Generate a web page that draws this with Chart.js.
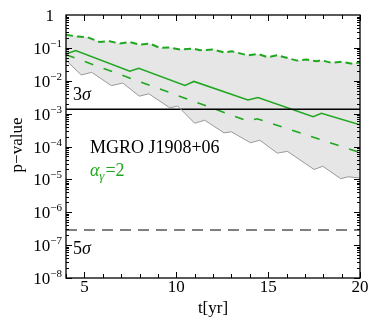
<!DOCTYPE html>
<html>
<head>
<meta charset="utf-8">
<script src="https://cdn.jsdelivr.net/npm/chart.js"></script>
<style>
  html, body { margin: 0; padding: 0; background: #fff; }
  #wrap { width: 370px; height: 320px; }
</style>
</head>
<body>
<div id="wrap"><canvas id="myChart" width="370" height="320"></canvas></div>
<script>
// p-value vs time, MGRO J1908+06
var xTicks = [5, 10, 15, 20];
var xMinorTicks = [4, 5, 6, 7, 8, 9, 10, 11, 12, 13, 14, 15, 16, 17, 18, 19, 20];
var yTicks = [1, 1e-1, 1e-2, 1e-3, 1e-4, 1e-5, 1e-6, 1e-7, 1e-8];
var yExp = [0, -1, -2, -3, -4, -5, -6, -7, -8];

// gray band, lower edge
var lowerT = [4.0, 4.83, 5.40, 6.47, 7.09, 7.99, 8.51, 9.65, 10.08, 11.0, 11.55, 12.6, 13.0, 14.04, 14.55, 15.5, 16.05, 17.5, 17.98, 18.95, 19.35, 20];
var lowerP = [4.2e-2, 1.5e-2, 1.8e-2, 7.1e-3, 8.5e-3, 3.4e-3, 4.0e-3, 1.5e-3, 1.7e-3, 5.1e-4, 6.3e-4, 2.6e-4, 2.8e-4, 1.3e-4, 1.55e-4, 6.3e-5, 7.1e-5, 2.0e-5, 2.5e-5, 1.05e-5, 1.2e-5, 1.1e-5];
// gray band, upper edge (green short dashes)
var upperT = [4, 4.64, 5.18, 5.84, 6.38, 6.93, 7.47, 8.02, 8.56, 9.1, 9.65, 10.2, 10.9, 11.3, 12.0, 12.65, 13.03, 13.9, 14.45, 14.99, 15.48, 16.57, 17.1, 17.65, 17.9, 18.45, 19.0, 19.6, 20];
var upperP = [0.25, 0.22, 0.21, 0.15, 0.16, 0.135, 0.15, 0.126, 0.135, 0.10, 0.102, 0.089, 0.095, 0.085, 0.089, 0.072, 0.079, 0.059, 0.065, 0.052, 0.060, 0.041, 0.044, 0.039, 0.042, 0.035, 0.038, 0.033, 0.036];
// green solid
var solidT = [4, 4.53, 7.47, 7.96, 10.47, 10.96, 13.9, 14.45, 17.45, 17.9, 20];
var solidP = [0.065, 0.083, 0.0195, 0.024, 7.2e-3, 9.5e-3, 2.6e-3, 3.1e-3, 8.1e-4, 1.02e-3, 4.6e-4];
// green long dashes
var dashT = [4, 13.9, 14.4, 20];
var dashP = [0.062, 5.9e-4, 7.0e-4, 6.5e-5];
// significance levels
var sigmaT = [4, 20];
var sigma3 = 1.35e-3;
var sigma5 = 2.87e-7;

var green = '#1fa81f';
var serif = '"Liberation Serif", "DejaVu Serif", serif';

function pts(xs, ys) {
  return xs.map(function (t, i) { return { x: t, y: ys[i] }; });
}

var frameTicks = {
  id: 'frameTicks',
  afterDatasetsDraw: function (chart) {
    var ctx = chart.ctx, a = chart.chartArea;
    var xs = chart.scales.x, ys = chart.scales.y;
    ctx.save();
    ctx.strokeStyle = '#000';
    ctx.lineWidth = 1;
    ctx.beginPath();
    // x ticks top and bottom
    xMinorTicks.forEach(function (t) {
      var px = Math.round(xs.getPixelForValue(t)) + 0.5;
      var len = xTicks.indexOf(t) >= 0 ? 6 : 4;
      ctx.moveTo(px, a.bottom); ctx.lineTo(px, a.bottom - len);
      ctx.moveTo(px, a.top); ctx.lineTo(px, a.top + len);
    });
    // y ticks left and right
    yExp.forEach(function (e) {
      for (var m = 1; m <= 9; m++) {
        var v = m * Math.pow(10, e - 1);
        if (e - 1 < -8) continue;
        var py = Math.round(ys.getPixelForValue(v)) + 0.5;
        var len = m === 1 ? 6 : 3;
        ctx.moveTo(a.left, py); ctx.lineTo(a.left + len, py);
        ctx.moveTo(a.right, py); ctx.lineTo(a.right - len, py);
      }
    });
    ctx.stroke();
    ctx.lineWidth = 1.3;
    ctx.strokeRect(a.left, a.top, a.right - a.left, a.bottom - a.top);
    ctx.restore();
  },
  afterDraw: function (chart) {
    var ctx = chart.ctx, a = chart.chartArea;
    var xs = chart.scales.x, ys = chart.scales.y;
    ctx.save();
    ctx.fillStyle = '#000';
    ctx.textBaseline = 'alphabetic';
    // y tick labels
    yTicks.forEach(function (v, i) {
      var py = ys.getPixelForValue(v);
      if (yExp[i] === 0) {
        ctx.font = '17px ' + serif;
        ctx.textAlign = 'right';
        ctx.fillText('1', a.left - 12, py + 6);
        return;
      }
      ctx.font = '11px ' + serif;
      ctx.textAlign = 'right';
      var sup = '\u2212' + (-yExp[i]);
      ctx.fillText(sup, a.left - 4, py - 1);
      var w = ctx.measureText(sup).width;
      ctx.font = '17px ' + serif;
      ctx.fillText('10', a.left - 4 - w, py + 6);
    });
    // x tick labels
    ctx.font = '17px ' + serif;
    ctx.textAlign = 'center';
    xTicks.forEach(function (t) {
      ctx.fillText(String(t), xs.getPixelForValue(t), a.bottom + 14);
    });
    // axis titles
    ctx.fillText('t[yr]', (a.left + a.right) / 2, a.bottom + 35);
    ctx.save();
    ctx.translate(22, 145);
    ctx.rotate(-Math.PI / 2);
    ctx.fillText('p\u2212value', 0, 0);
    ctx.restore();
    // sigma labels
    var lx = xs.getPixelForValue(4) + 7;
    ctx.textAlign = 'left';
    function sig(num, x, y) {
      ctx.font = '18px ' + serif;
      ctx.fillText(num, x, y);
      var w = ctx.measureText(num).width;
      ctx.font = 'italic 18px ' + serif;
      ctx.fillText('\u03c3', x + w, y);
    }
    sig('3', lx, ys.getPixelForValue(sigma3) - 9);
    sig('5', lx, ys.getPixelForValue(sigma5) + 24);
    // source label
    var tx = xs.getPixelForValue(5.3);
    ctx.font = '18px ' + serif;
    ctx.fillText('MGRO J1908+06', tx, ys.getPixelForValue(1e-4) + 6);
    ctx.fillStyle = green;
    var by = ys.getPixelForValue(1e-5) - 3;
    ctx.font = 'italic 18px ' + serif;
    ctx.fillText('\u03b1', tx, by);
    var w1 = ctx.measureText('\u03b1').width;
    ctx.font = 'italic 13px ' + serif;
    ctx.fillText('\u03b3', tx + w1, by + 4);
    var w2 = ctx.measureText('\u03b3').width;
    ctx.font = '18px ' + serif;
    ctx.fillText('=2', tx + w1 + w2 + 1, by);
    ctx.restore();
  }
};

var ctx = document.getElementById('myChart').getContext('2d');
var myChart = new Chart(ctx, {
  type: 'line',
  data: {
    datasets: [
      {
        label: 'lower',
        data: pts(lowerT, lowerP),
        borderColor: '#999999',
        borderWidth: 1,
        fill: false
      },
      {
        label: 'upper',
        data: pts(upperT, upperP),
        borderColor: green,
        borderWidth: 2,
        borderDash: [7, 4],
        backgroundColor: '#e6e6e6',
        fill: 0
      },
      {
        label: '3 sigma',
        data: pts(sigmaT, [sigma3, sigma3]),
        borderColor: '#000000',
        borderWidth: 1.5,
        fill: false
      },
      {
        label: '5 sigma',
        data: pts(sigmaT, [sigma5, sigma5]),
        borderColor: '#808080',
        borderWidth: 2,
        borderDash: [11, 7],
        fill: false
      },
      {
        label: 'solid',
        data: pts(solidT, solidP),
        borderColor: green,
        borderWidth: 1.6,
        fill: false
      },
      {
        label: 'dashed',
        data: pts(dashT, dashP),
        borderColor: green,
        borderWidth: 1.6,
        borderDash: [9, 11],
        fill: false
      }
    ]
  },
  options: {
    responsive: false,
    devicePixelRatio: 1,
    animation: false,
    layout: { padding: { left: 66, right: 10, top: 15, bottom: 42 } },
    elements: { point: { radius: 0 }, line: { tension: 0 } },
    plugins: {
      legend: { display: false },
      tooltip: { enabled: false },
      filler: { drawTime: 'beforeDatasetsDraw' }
    },
    scales: {
      x: { type: 'linear', min: 4, max: 20, display: false },
      y: { type: 'logarithmic', min: 1e-8, max: 1, display: false }
    }
  },
  plugins: [frameTicks]
});
</script>
</body>
</html>
